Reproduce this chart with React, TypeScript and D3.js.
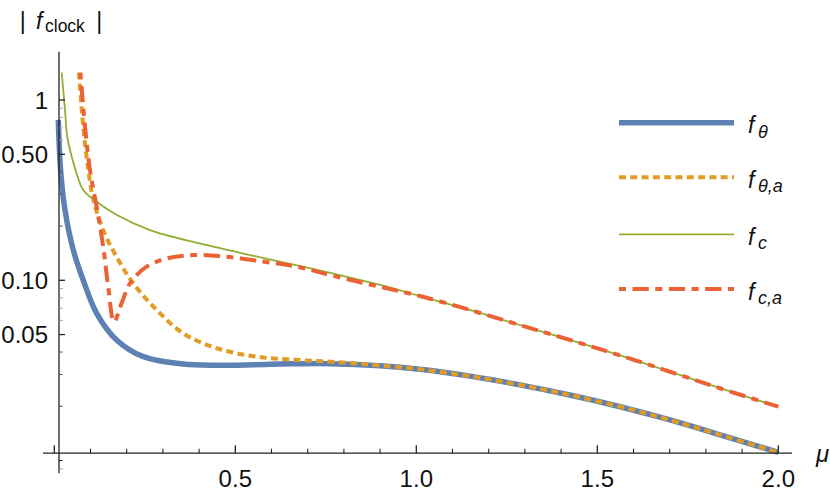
import React from 'react';
import * as d3 from 'd3';

// |f_clock| curves (mu, value)
const muTheta = [0.011, 0.0177, 0.0296, 0.0525, 0.08, 0.117, 0.172, 0.246, 0.356, 0.45, 0.55, 0.65, 0.762, 0.9, 1.01, 1.148, 1.286, 1.424, 1.563, 1.701, 1.839, 2.0];
const fTheta = [0.775, 0.4, 0.245, 0.147, 0.1, 0.0656, 0.0467, 0.0377, 0.0343, 0.0338, 0.034, 0.0344, 0.0345, 0.0336, 0.0321, 0.0294, 0.0263, 0.0231, 0.0199, 0.0168, 0.0139, 0.0111];

const muThetaA = [0.068, 0.08, 0.094, 0.108, 0.135, 0.172, 0.218, 0.283, 0.356, 0.449, 0.559, 0.679, 0.8, 0.9, 1.01, 1.148, 1.286, 1.424, 1.563, 1.701, 1.839, 2.0];
const fThetaA = [1.42, 0.711, 0.409, 0.279, 0.19, 0.135, 0.0962, 0.0684, 0.0508, 0.042, 0.0377, 0.0361, 0.035, 0.0337, 0.0321, 0.0294, 0.0263, 0.0231, 0.0199, 0.0168, 0.0139, 0.0111];

const muC = [0.0204, 0.0296, 0.035, 0.0434, 0.057, 0.08, 0.118, 0.173, 0.264, 0.402, 0.541, 0.623, 0.762, 0.9, 1.01, 1.148, 1.286, 1.424, 1.563, 1.701, 1.839, 2.0];
const fC = [1.42, 0.88, 0.64, 0.528, 0.42, 0.317, 0.272, 0.23, 0.19, 0.16, 0.138, 0.127, 0.11, 0.0942, 0.0818, 0.0685, 0.0565, 0.0467, 0.0383, 0.0311, 0.0252, 0.0199];

const muCA = [0.072, 0.0848, 0.0986, 0.117, 0.135, 0.149, 0.165, 0.186, 0.209, 0.255, 0.31, 0.384, 0.476, 0.577, 0.67, 0.762, 0.9, 1.01, 1.148, 1.286, 1.424, 1.563, 1.701, 1.839, 2.0];
const fCA = [1.42, 0.711, 0.409, 0.256, 0.154, 0.092, 0.0589, 0.0745, 0.0962, 0.119, 0.132, 0.138, 0.135, 0.127, 0.119, 0.107, 0.092, 0.0818, 0.0685, 0.0565, 0.0467, 0.0383, 0.0311, 0.0252, 0.0199];

const xMajor = [0, 0.5, 1.0, 1.5, 2.0];
const xLabels = ['', '0.5', '1.0', '1.5', '2.0'];
const yMajor = [1, 0.5, 0.1, 0.05];
const yLabels = ['1', '0.50', '0.10', '0.05'];

const series = [
  { name: 'θ', mu: muTheta, f: fTheta, color: '#5E81B5', width: 5.5, dash: null },
  { name: 'θ,a', mu: muThetaA, f: fThetaA, color: '#E19C24', width: 4, dash: '7,4.3' },
  { name: 'c', mu: muC, f: fC, color: '#8FB032', width: 1.8, dash: null },
  { name: 'c,a', mu: muCA, f: fCA, color: '#EB6235', width: 4, dash: '7,6.5,16.3,6.5' },
];

const font = '"Liberation Sans", Arial, sans-serif';

export default function App() {
  const x = d3.scaleLinear().domain([0, 2]).range([54.3, 778.3]);
  const y = d3.scaleLog().domain([1, 0.1]).range([100, 280.3]);

  const axisX = x(0.013);
  const axisY = y(0.011);
  const yTop = y(1.85);
  const yBottom = y(0.0085);

  const line = d3
    .line<[number, number]>()
    .x((d) => x(d[0]))
    .y((d) => y(d[1]))
    .curve(d3.curveCatmullRom.alpha(0.5));

  const xMinor = d3.range(1, 21).map((i) => i / 10).filter((m) => !xMajor.some((t) => Math.abs(t - m) < 1e-6));

  const yMinor: { v: number; k: number }[] = [];
  for (let n = -3; n <= 0; n++) {
    for (let k = 1; k <= 9; k++) {
      const v = k * Math.pow(10, n);
      if (v < 0.0085 || v > 1.85) continue;
      if (yMajor.some((t) => Math.abs(t - v) / t < 1e-6)) continue;
      yMinor.push({ v, k });
    }
  }

  const legendRows = [122.7, 177.3, 234.3, 289];

  return (
    <svg
      width={830}
      height={496}
      style={{ position: 'absolute', left: 0, top: 0, background: '#fff' }}
      fontFamily={font}
    >
      {/* title */}
      <g fill="#111">
        <text x={22.7} y={29} fontSize={23} textAnchor="middle">|</text>
        <text x={36} y={28.5} fontSize={23} fontStyle="italic">f</text>
        <text x={45} y={31.5} fontSize={17.5}>clock</text>
        <text x={99.3} y={29} fontSize={23} textAnchor="middle">|</text>
      </g>

      {/* curves */}
      {series.map((s) => (
        <path
          key={s.name}
          d={line(s.mu.map((m, i) => [m, s.f[i]] as [number, number])) || ''}
          fill="none"
          stroke={s.color}
          strokeWidth={s.width}
          strokeDasharray={s.dash || undefined}
        />
      ))}

      {/* axes */}
      <g stroke="#222" strokeWidth={1.3}>
        <line x1={43} x2={792} y1={axisY} y2={axisY} />
        <line x1={axisX} x2={axisX} y1={yTop} y2={yBottom} />
        {xMajor.map((t) => (
          <line key={'xM' + t} x1={x(t)} x2={x(t)} y1={axisY} y2={axisY - 8} />
        ))}
        {xMinor.map((t) => (
          <line key={'xm' + t} x1={x(t)} x2={x(t)} y1={axisY} y2={axisY - 4.5} strokeWidth={1.1} />
        ))}
        {yMajor.map((t) => (
          <line key={'yM' + t} x1={axisX} x2={axisX + 6} y1={y(t)} y2={y(t)} />
        ))}
        {yMinor.map((t) => (
          <line
            key={'ym' + t.v}
            x1={axisX}
            x2={axisX + 3.7}
            y1={y(t.v)}
            y2={y(t.v)}
            strokeWidth={1}
            stroke={t.k === 1 ? '#222' : t.k <= 5 ? '#555' : '#999'}
          />
        ))}
      </g>

      {/* tick labels */}
      <g fill="#111" fontSize={24}>
        {xMajor.map((t, i) =>
          xLabels[i] ? (
            <text key={'xl' + t} x={x(t)} y={487} textAnchor="middle">
              {xLabels[i]}
            </text>
          ) : null
        )}
        {yMajor.map((t, i) => (
          <text key={'yl' + t} x={48} y={y(t)} textAnchor="end" dominantBaseline="central">
            {yLabels[i]}
          </text>
        ))}
        <text x={816} y={462} fontStyle="italic">μ</text>
      </g>

      {/* legend */}
      {series.map((s, i) => (
        <g key={'lg' + s.name}>
          <line
            x1={619}
            x2={734}
            y1={legendRows[i]}
            y2={legendRows[i]}
            stroke={s.color}
            strokeWidth={s.width}
            strokeDasharray={s.dash || undefined}
          />
          <text x={748} y={legendRows[i] + 10.5} fontSize={23} fontStyle="italic" fill="#111">
            f
          </text>
          <text x={758} y={legendRows[i] + 15} fontSize={18} fontStyle="italic" fill="#111">
            {s.name}
          </text>
        </g>
      ))}
    </svg>
  );
}
